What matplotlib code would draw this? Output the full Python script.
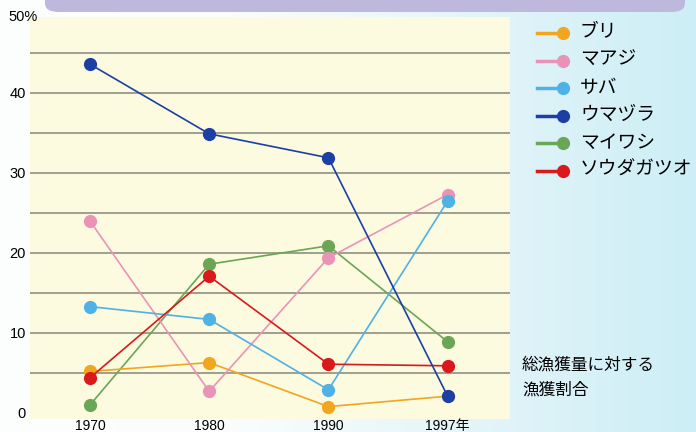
import numpy as np
import matplotlib
matplotlib.use("Agg")
import matplotlib.pyplot as plt
from matplotlib.lines import Line2D
from matplotlib.patches import FancyBboxPatch
from matplotlib.colors import LinearSegmentedColormap

plt.rcParams['font.family'] = ['Liberation Sans', 'Noto Sans CJK JP', 'DejaVu Sans']

# data (% of total catch)
years = ['1970', '1980', '1990', '1997年']
buri = [5.2, 6.3, 0.8, 2.1]
maaji = [24.0, 2.7, 19.4, 27.3]
saba = [13.3, 11.7, 2.9, 26.5]
umazura = [43.6, 34.9, 31.9, 2.1]
maiwashi = [1.0, 18.6, 20.9, 8.9]
soudagatsuo = [4.4, 17.1, 6.1, 5.9]

names = ['ブリ', 'マアジ', 'サバ', 'ウマヅラ', 'マイワシ', 'ソウダガツオ']
series = [buri, maaji, saba, umazura, maiwashi, soudagatsuo]
colors = ['#f2a51e', '#ea93b8', '#4fb1e6', '#1c3fa6', '#6aa655', '#d9191b']
zorders = [4, 5, 6, 8, 3, 7]

W, H = 696, 432
fig = plt.figure(figsize=(W / 100, H / 100), dpi=100)

# background gradient (white -> light cyan)
bg = fig.add_axes([0, 0, 1, 1], zorder=-10)
cmap = LinearSegmentedColormap.from_list('bg', ['#fdfefe', '#fbfdfd', '#e4f5f9', '#cdeef6'])
grad = np.linspace(0, 1, 256).reshape(1, -1)
bg.imshow(grad, aspect='auto', cmap=cmap, extent=[0, 1, 0, 1])
bg.set_axis_off()

# top banner (cut off in the source)
banner = FancyBboxPatch((45 / W, 1 - 12 / H), 640 / W, 30 / H,
                        boxstyle="round,pad=0,rounding_size=0.02",
                        transform=fig.transFigure, facecolor='#bdb8dc',
                        edgecolor='none', zorder=1)
fig.add_artist(banner)

ax = fig.add_axes([30 / W, 1 - 419 / H, 480 / W, 402 / H])
ax.set_facecolor('#fcfadf')
x = np.arange(len(years))
for vals, c, z in zip(series, colors, zorders):
    ax.plot(x, vals, color=c, lw=1.2, marker='o', markersize=9.5,
            markeredgewidth=0, zorder=z)

for g in np.arange(5, 50, 5):
    ax.axhline(g, color='#85857c', lw=1.1, zorder=1)

ax.set_xlim(-0.503, 3.523)
ax.set_ylim(-0.75, 49.5)
ax.set_xticks(x)
ax.set_xticklabels(years, fontsize=10)
ax.set_yticks([0, 10, 20, 30, 40])
ax.set_yticklabels(['0', '10', '20', '30', '40'], fontsize=10.5)
ax.tick_params(length=0)
ax.tick_params(axis='x', pad=0)
ax.tick_params(axis='y', pad=3)
for s in ax.spines.values():
    s.set_visible(False)

fig.text(8 / W, 1 - 17 / H, '50%', fontsize=10.5, ha='left', va='center')

# legend, drawn by hand so the dot sits at the end of the line
for i, (n, c) in enumerate(zip(names, colors)):
    yy = 1 - (33 + i * 27.5) / H
    fig.add_artist(Line2D([537 / W, 562 / W], [yy, yy], color=c, lw=2.5,
                          transform=fig.transFigure))
    fig.add_artist(Line2D([563 / W], [yy], color=c, marker='o', markersize=9.5,
                          markeredgewidth=0, transform=fig.transFigure))
    fig.text(580 / W, yy, n, fontsize=13.5, ha='left', va='center')

fig.text(522 / W, 1 - 377 / H, '総漁獲量に対する\n漁獲割合', fontsize=12,
         ha='left', va='center', linespacing=1.75)

fig.savefig('out.png', dpi=100)
